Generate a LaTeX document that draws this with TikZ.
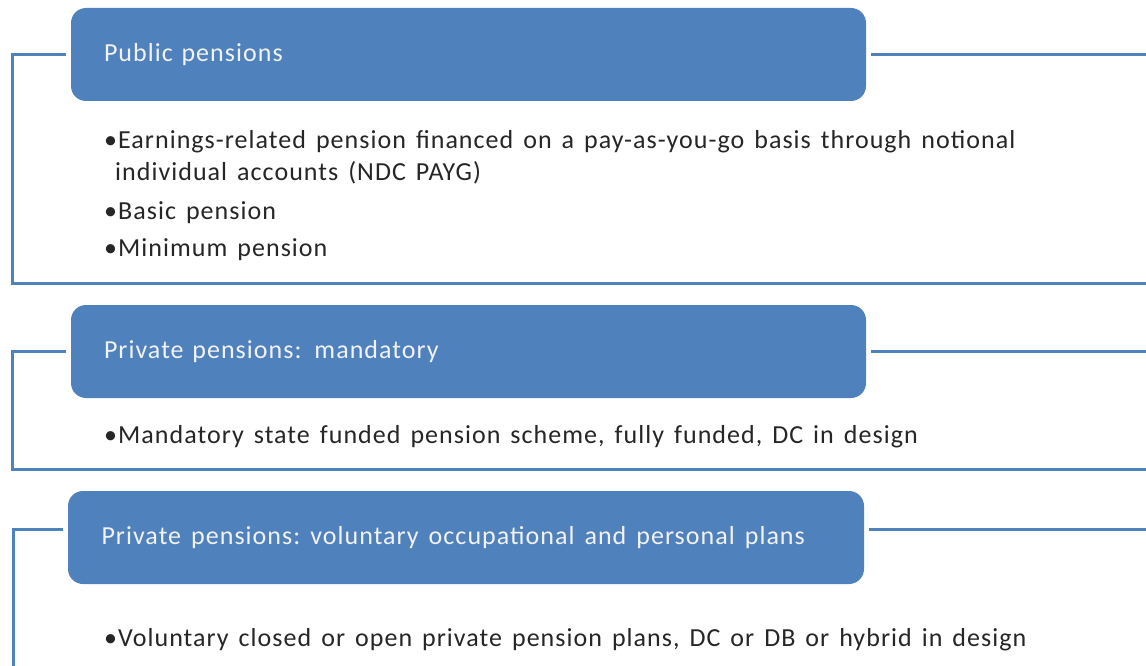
\documentclass[tikz,border=0pt]{standalone}
\usepackage{fontspec}
\setmainfont{Carlito}[LetterSpace=4]
\usetikzlibrary{positioning, calc}
\definecolor{pensionblue}{HTML}{4F81BD}
\definecolor{headtext}{HTML}{F2F2F2}
\definecolor{bodytext}{HTML}{262626}
\newcommand\widespaces[1]{\spaceskip=#1\relax\xspaceskip=#1\relax}

\begin{document}
\begin{tikzpicture}[x=1pt, y=-1pt, font=\fontsize{26}{32}\selectfont,
    header/.style={fill=pensionblue, rounded corners=15pt, minimum width=795pt,
      minimum height=93pt, text width=729pt, align=left, inner xsep=33pt,
      text=headtext},
    frame/.style={draw=pensionblue, line width=3pt},
    item/.style={anchor=west, align=left, inner sep=0pt, text=bodytext,
      font={\fontsize{26}{32}\selectfont\widespaces{10pt}}}]
  \useasboundingbox[fill=white] (0,0) rectangle (1146,666);
  \coordinate (leftedge) at (12,0);
  \coordinate (rightedge) at (1150,0);

  % public pensions
  \node[header] (public) at (468.5,54.5) {Public pensions};
  \node[item] (publiclist) at (104,196)
    {\textbullet Earnings-related pension financed on a pay-as-you-go basis through notional\\
     \hspace{11pt}individual accounts (NDC PAYG)\\[7pt]
     \textbullet Basic pension\\[5pt]
     \textbullet Minimum pension};
  \coordinate (publicbottom) at (12,283);
  \draw[frame] ([xshift=-5pt]public.west) -| (publicbottom) -- (publicbottom -| rightedge);
  \draw[frame] ([xshift=5pt]public.east) -- (public.east -| rightedge);

  % mandatory private pensions
  \node[header] (mandatory) at (468.5,351.5) {Private pensions: mandatory};
  \node[item] (mandatorylist) at (104,437)
    {\textbullet Mandatory state funded pension scheme, fully funded, DC in design};
  \coordinate (mandatorybottom) at (12,469);
  \draw[frame] ([xshift=-5pt]mandatory.west) -| (mandatorybottom) -- (mandatorybottom -| rightedge);
  \draw[frame] ([xshift=5pt]mandatory.east) -- (mandatory.east -| rightedge);

  % voluntary private pensions
  \node[header, minimum width=796pt] (voluntary) at (466,537.5)
    {\widespaces{10pt}Private pensions: voluntary occupational and personal plans};
  \node[item] (voluntarylist) at (104,640)
    {\textbullet Voluntary closed or open private pension plans, DC or DB or hybrid in design};
  \coordinate (voluntarybottom) at (13,670);
  \draw[frame] ([shift={(-5pt,8.5pt)}]voluntary.west) -| (voluntarybottom);
  \draw[frame] ([shift={(5pt,8.5pt)}]voluntary.east) -- ++(300,0);
\end{tikzpicture}
\end{document}
